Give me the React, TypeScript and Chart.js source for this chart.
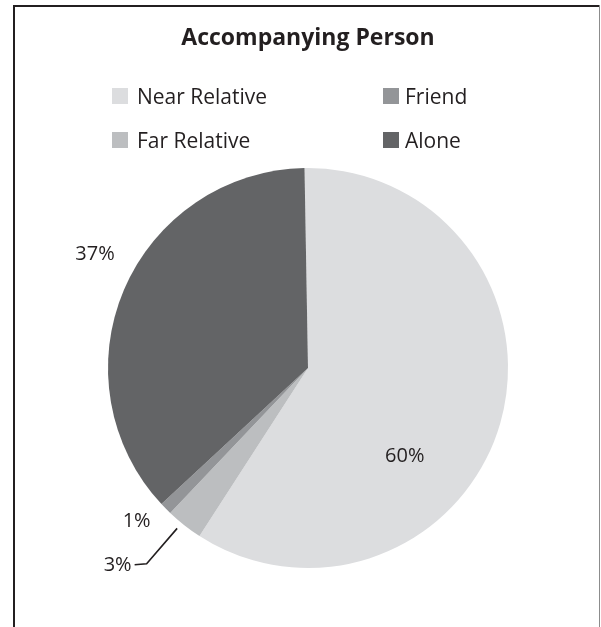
import React, { useEffect, useRef } from "react";
import { Chart, registerables } from "chart.js";

Chart.register(...registerables);

const TITLE = "Accompanying Person";
const CATEGORIES = ["Near Relative", "Far Relative", "Friend", "Alone"];
const VALUES = [60, 3, 1, 37];
const VALUE_LABELS = ["60%", "3%", "1%", "37%"];
const COLORS = ["#dcdddf", "#bcbec0", "#939598", "#636466"];

const FONT = '"Open Sans", "Noto Sans", sans-serif';
const TEXT_COLOR = "#231f20";

// style: where each value label sits relative to its slice (angle offset in degrees, radius factor)
const LABEL_STYLE = [
  { dA: 26, rf: 0.65, leader: false },
  { dA: 6, rf: 1.365, leader: true },
  { dA: 3, rf: 1.147, leader: false },
  { dA: 5.3, rf: 1.21, leader: false },
];

const decorPlugin = {
  id: "decor",
  beforeDraw(chart: any) {
    const ctx = chart.ctx;
    ctx.save();
    ctx.fillStyle = "#ffffff";
    ctx.fillRect(0, 0, chart.width, chart.height);
    ctx.fillStyle = TEXT_COLOR;
    ctx.fillRect(13, 5, 2, chart.height - 5);
    ctx.fillRect(13, 5, 587, 2);
    ctx.fillStyle = "#8c8c8c";
    ctx.fillRect(599, 5, 1, chart.height - 5);
    ctx.restore();
  },
  afterDraw(chart: any) {
    const ctx = chart.ctx;
    const area = chart.chartArea;
    const cx = (area.left + area.right) / 2;
    ctx.save();
    // title
    ctx.fillStyle = TEXT_COLOR;
    ctx.font = `bold 23px ${FONT}`;
    ctx.textAlign = "center";
    ctx.textBaseline = "alphabetic";
    ctx.fillText(TITLE, cx, 45);

    // legend (two columns, column-major)
    const labels = chart.data.labels as string[];
    const colors = chart.data.datasets[0].backgroundColor as string[];
    const boxX = [112, 383];
    const textX = [137, 405];
    ctx.font = `21px ${FONT}`;
    ctx.textAlign = "left";
    labels.forEach((lab, i) => {
      const col = Math.floor(i / 2);
      const row = i % 2;
      const top = 88 + row * 44;
      ctx.fillStyle = colors[i];
      ctx.fillRect(boxX[col], top, 16, 16);
      ctx.fillStyle = TEXT_COLOR;
      ctx.fillText(lab, textX[col], top + 16);
    });

    // value labels
    const meta = chart.getDatasetMeta(0);
    ctx.font = `20px ${FONT}`;
    ctx.textAlign = "center";
    meta.data.forEach((arc: any, i: number) => {
      const p = arc.getProps(["x", "y", "startAngle", "endAngle", "outerRadius"], true);
      const st = LABEL_STYLE[i];
      const mid = (p.startAngle + p.endAngle) / 2;
      const a = mid + (st.dA * Math.PI) / 180;
      const tx = p.x + Math.cos(a) * p.outerRadius * st.rf;
      const ty = p.y + Math.sin(a) * p.outerRadius * st.rf;
      ctx.fillStyle = TEXT_COLOR;
      ctx.fillText(VALUE_LABELS[i], tx, ty + 7);
      if (st.leader) {
        const w = ctx.measureText(VALUE_LABELS[i]).width;
        const a0 = mid + (1 * Math.PI) / 180;
        const sx = p.x + Math.cos(a0) * p.outerRadius * 1.035;
        const sy = p.y + Math.sin(a0) * p.outerRadius * 1.035;
        const right = tx + w / 2;
        ctx.strokeStyle = TEXT_COLOR;
        ctx.lineWidth = 1.6;
        ctx.beginPath();
        ctx.moveTo(sx, sy);
        ctx.lineTo(right + 15, ty);
        ctx.lineTo(right + 3, ty + 1);
        ctx.stroke();
      }
    });
    ctx.restore();
  },
};

export default function App() {
  const ref = useRef<HTMLCanvasElement | null>(null);
  useEffect(() => {
    if (!ref.current) return;
    const chart = new Chart(ref.current, {
      type: "pie",
      data: {
        labels: CATEGORIES,
        datasets: [
          {
            data: VALUES,
            backgroundColor: COLORS,
            borderWidth: 0,
          },
        ],
      },
      options: {
        responsive: false,
        animation: false,
        rotation: -1,
        layout: { padding: { left: 108, right: 93, top: 168, bottom: 59 } },
        plugins: {
          legend: { display: false },
          title: { display: false },
          tooltip: { enabled: false },
        },
      },
      plugins: [decorPlugin],
    });
    return () => chart.destroy();
  }, []);
  return (
    <div style={{ position: "absolute", left: 0, top: 0, width: 601, height: 627 }}>
      <canvas ref={ref} width={601} height={627} style={{ display: "block" }} />
    </div>
  );
}
